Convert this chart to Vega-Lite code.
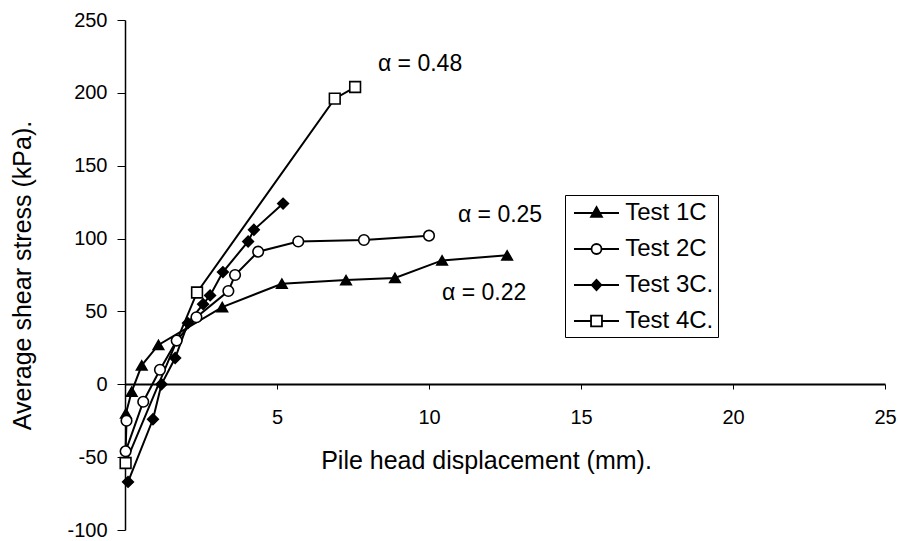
{
  "$schema": "https://vega.github.io/schema/vega-lite/v6.json",
  "width": 760,
  "height": 510,
  "autosize": "none",
  "padding": {"left": 125, "top": 20, "right": 13, "bottom": 11},
  "background": "white",
  "config": {
    "view": {"stroke": null},
    "font": "Liberation Sans"
  },
  "datasets": {
    "pts": [
      {"series": "Test 1C", "i": 1, "x": 0.03, "y": -20},
      {"series": "Test 1C", "i": 2, "x": 0.22, "y": -5},
      {"series": "Test 1C", "i": 3, "x": 0.55, "y": 13},
      {"series": "Test 1C", "i": 4, "x": 1.1, "y": 27},
      {"series": "Test 1C", "i": 5, "x": 3.2, "y": 53},
      {"series": "Test 1C", "i": 6, "x": 5.16, "y": 69},
      {"series": "Test 1C", "i": 7, "x": 7.27, "y": 71.5},
      {"series": "Test 1C", "i": 8, "x": 8.88, "y": 73},
      {"series": "Test 1C", "i": 9, "x": 10.43, "y": 85},
      {"series": "Test 1C", "i": 10, "x": 12.57, "y": 88.5},
      {"series": "Test 2C", "i": 1, "x": 0.05, "y": -25},
      {"series": "Test 2C", "i": 2, "x": 0.02, "y": -46},
      {"series": "Test 2C", "i": 3, "x": 0.6, "y": -12},
      {"series": "Test 2C", "i": 4, "x": 1.15, "y": 10},
      {"series": "Test 2C", "i": 5, "x": 1.7, "y": 30},
      {"series": "Test 2C", "i": 6, "x": 2.35, "y": 46},
      {"series": "Test 2C", "i": 7, "x": 3.4, "y": 64},
      {"series": "Test 2C", "i": 8, "x": 3.62, "y": 75},
      {"series": "Test 2C", "i": 9, "x": 4.38, "y": 91},
      {"series": "Test 2C", "i": 10, "x": 5.7, "y": 98},
      {"series": "Test 2C", "i": 11, "x": 7.86, "y": 99},
      {"series": "Test 2C", "i": 12, "x": 10.0, "y": 102},
      {"series": "Test 3C.", "i": 1, "x": 0.1, "y": -67},
      {"series": "Test 3C.", "i": 2, "x": 0.92, "y": -24},
      {"series": "Test 3C.", "i": 3, "x": 1.2, "y": 0},
      {"series": "Test 3C.", "i": 4, "x": 1.65, "y": 18},
      {"series": "Test 3C.", "i": 5, "x": 2.07, "y": 42},
      {"series": "Test 3C.", "i": 6, "x": 2.57, "y": 55},
      {"series": "Test 3C.", "i": 7, "x": 2.8, "y": 61},
      {"series": "Test 3C.", "i": 8, "x": 3.22, "y": 77},
      {"series": "Test 3C.", "i": 9, "x": 4.05, "y": 98},
      {"series": "Test 3C.", "i": 10, "x": 4.24, "y": 106},
      {"series": "Test 3C.", "i": 11, "x": 5.2, "y": 124},
      {"series": "Test 4C.", "i": 1, "x": 0.02, "y": -54},
      {"series": "Test 4C.", "i": 2, "x": 2.37, "y": 63},
      {"series": "Test 4C.", "i": 3, "x": 6.9, "y": 196},
      {"series": "Test 4C.", "i": 4, "x": 7.57, "y": 204}
    ],
    "notes": [
      {"label": "α = 0.48", "x": 8.32, "y": 220},
      {"label": "α  =  0.25", "x": 10.95, "y": 116},
      {"label": "α  =  0.22", "x": 10.43, "y": 62.5}
    ]
  },
  "resolve": {"scale": {"shape": "independent", "fill": "independent", "stroke": "independent", "size": "independent"}},
  "layer": [
    {
      "data": {"name": "pts"},
      "mark": {"type": "line", "stroke": "black", "strokeWidth": 2},
      "encoding": {
        "x": {
          "field": "x", "type": "quantitative",
          "scale": {"domain": [0, 25], "nice": false, "zero": false},
          "axis": {
            "orient": "bottom",
            "offset": -146,
            "values": [5, 10, 15, 20, 25],
            "grid": false,
            "domainColor": "black",
            "domainWidth": 1.8,
            "tickColor": "black",
            "tickSize": 5,
            "labelPadding": 18,
            "labelFontSize": 20,
            "labelColor": "black",
            "labelFlush": false,
            "labelOverlap": false,
            "title": "Pile head displacement (mm).",
            "titleFontSize": 25,
            "titleFontWeight": "normal",
            "titleColor": "black",
            "titleX": 361,
            "titleY": 76,
            "titleAlign": "center",
            "titleBaseline": "middle"
          }
        },
        "y": {
          "field": "y", "type": "quantitative",
          "scale": {"domain": [-100, 250], "nice": false, "zero": false},
          "axis": {
            "orient": "left",
            "values": [-100, -50, 0, 50, 100, 150, 200, 250],
            "labelExpr": "'' + datum.value",
            "grid": false,
            "domainColor": "black",
            "domainWidth": 1.5,
            "tickColor": "black",
            "tickSize": 8,
            "labelPadding": 10,
            "labelFontSize": 20,
            "labelColor": "black",
            "labelFlush": false,
            "labelOverlap": false,
            "title": "Average shear stress (kPa).",
            "titleFontSize": 25,
            "titleFontWeight": "normal",
            "titleColor": "black",
            "titleX": -103,
            "titleY": 255,
            "titleAngle": -90,
            "titleAlign": "center",
            "titleBaseline": "middle"
          }
        },
        "detail": {"field": "series", "type": "nominal"},
        "order": {"field": "i", "type": "quantitative"}
      }
    },
    {
      "data": {"name": "pts"},
      "mark": {"type": "point", "stroke": "black", "strokeWidth": 1.6, "opacity": 1},
      "encoding": {
        "x": {"field": "x", "type": "quantitative"},
        "y": {"field": "y", "type": "quantitative"},
        "shape": {
          "field": "series", "type": "nominal",
          "scale": {"domain": ["Test 1C", "Test 2C", "Test 3C.", "Test 4C."], "range": ["triangle-up", "circle", "diamond", "square"]},
          "legend": null
        },
        "fill": {
          "field": "series", "type": "nominal",
          "scale": {"domain": ["Test 1C", "Test 2C", "Test 3C.", "Test 4C."], "range": ["black", "white", "black", "white"]},
          "legend": null
        },
        "size": {
          "field": "series", "type": "ordinal",
          "scale": {"domain": ["Test 1C", "Test 2C", "Test 3C.", "Test 4C."], "range": [110, 115, 90, 165]},
          "legend": null
        }
      }
    },
    {
      "data": {"name": "pts"},
      "transform": [{"filter": "false"}],
      "mark": {"type": "point", "opacity": 1, "strokeWidth": 1.8},
      "encoding": {
        "x": {"field": "x", "type": "quantitative"},
        "y": {"field": "y", "type": "quantitative"},
        "shape": {
          "field": "series", "type": "nominal",
          "scale": {
            "domain": ["Test 1C", "Test 2C", "Test 3C.", "Test 4C."],
            "range": [
              "M-1.73,0H1.73M0,-0.46L0.42,0.3L-0.42,0.3Z",
              "M-1.73,0H-0.385M0.385,0H1.73M0.385,0A0.385,0.385,0,1,1,-0.385,0A0.385,0.385,0,1,1,0.385,0Z",
              "M-1.73,0H1.73M0,-0.4L0.37,0L0,0.4L-0.37,0Z",
              "M-1.73,0H-0.42M0.42,0H1.73M-0.42,-0.42H0.42V0.42H-0.42Z"
            ]
          },
          "legend": {
            "orient": "none",
            "legendX": 440,
            "legendY": 175,
            "title": null,
            "strokeColor": "black",
            "fillColor": "white",
            "padding": 4,
            "symbolSize": 676,
            "rowPadding": 10,
            "symbolOffset": 13.5,
            "labelOffset": 14.7,
            "labelFontSize": 24,
            "labelColor": "black",
            "symbolStrokeWidth": 1.8
          }
        },
        "fill": {
          "field": "series", "type": "nominal",
          "scale": {"domain": ["Test 1C", "Test 2C", "Test 3C.", "Test 4C."], "range": ["black", "white", "black", "white"]}
        },
        "stroke": {
          "field": "series", "type": "nominal",
          "scale": {"domain": ["Test 1C", "Test 2C", "Test 3C.", "Test 4C."], "range": ["black", "black", "black", "black"]}
        }
      }
    },
    {
      "data": {"name": "notes"},
      "mark": {"type": "text", "align": "left", "baseline": "middle", "fontSize": 23, "color": "black"},
      "encoding": {
        "x": {"field": "x", "type": "quantitative"},
        "y": {"field": "y", "type": "quantitative"},
        "text": {"field": "label", "type": "nominal"}
      }
    }
  ]
}
